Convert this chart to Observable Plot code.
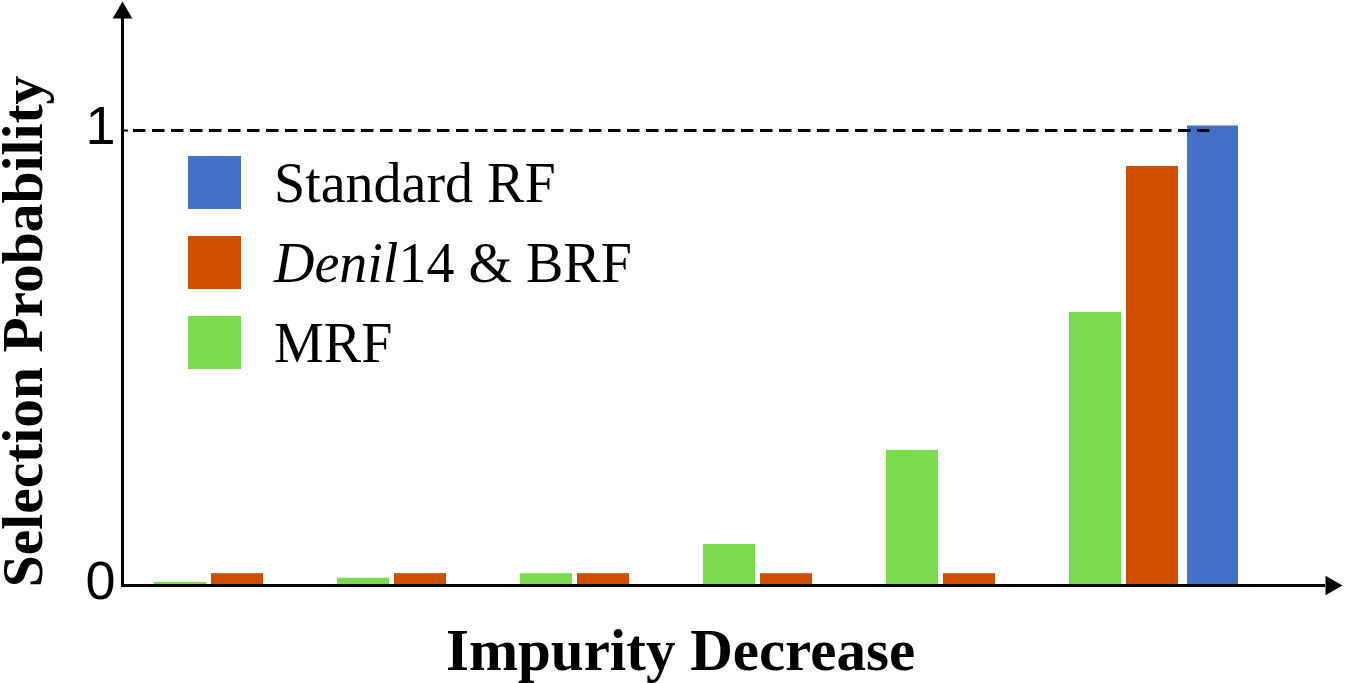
<!DOCTYPE html>
<html>
<head>
<meta charset="utf-8">
<script src="https://cdn.jsdelivr.net/npm/d3@7"></script>
<script src="https://cdn.jsdelivr.net/npm/@observablehq/plot@0.6"></script>
<style>
  html, body { margin: 0; padding: 0; background: white; overflow: hidden; }
  #wrap { position: relative; width: 1345px; height: 683px; }
  #legend { position: absolute; left: 188px; top: 156px; width: 620px; }
</style>
</head>
<body>
<div id="wrap"><div id="chart"></div><div id="legend"></div></div>
<script>
// ---- data ----
const groups = ["G1", "G2", "G3", "G4", "G5", "G6"];
const seriesNames = ["Standard RF", "Denil14 & BRF", "MRF"];
const standardRF = [0, 0, 0, 0, 0, 1.01];
const denilBRF = [0.026, 0.026, 0.026, 0.026, 0.026, 0.921];
const mrf = [0.007, 0.016, 0.026, 0.09, 0.297, 0.60];
const seriesColors = ["#4470C8", "#D04E00", "#7BDC4D"];
const yTicks = [0, 1];
const referenceLine = [1];
const xLabel = "Impurity Decrease";
const yLabel = "Selection Probability";

const rows = groups.flatMap((g, i) => [
  {group: g, series: seriesNames[2], value: mrf[i]},
  {group: g, series: seriesNames[1], value: denilBRF[i]},
  {group: g, series: seriesNames[0], value: standardRF[i]}
]);
const bySeries = s => rows.filter(d => d.series === s);

const chart = Plot.plot({
  width: 1345,
  height: 683,
  marginLeft: 122,
  marginRight: 20,
  marginTop: 18,
  marginBottom: 98,
  style: {fontFamily: "Liberation Sans", background: "white", color: "black"},
  x: {domain: groups, range: [152, 1240], paddingInner: 0.074, paddingOuter: 0, axis: null},
  y: {domain: [0, 1.2462], axis: null},
  color: {domain: seriesNames, range: seriesColors},
  marks: [
    Plot.barY(bySeries("MRF"), {x: "group", y: "value", fill: "series", insetLeft: 0, insetRight: 117}),
    Plot.barY(bySeries("Denil14 & BRF"), {x: "group", y: "value", fill: "series", insetLeft: 57, insetRight: 60}),
    Plot.barY(bySeries("Standard RF"), {x: "group", y: "value", fill: "series", insetLeft: 118, insetRight: 0}),
    Plot.ruleY(referenceLine, {stroke: "black", strokeWidth: 3, strokeDasharray: "12.5,6.5", insetLeft: 11, insetRight: 113}),
    Plot.ruleY(referenceLine, {stroke: "black", strokeWidth: 2, insetRight: 1197}),
    Plot.ruleY([0], {stroke: "black", strokeWidth: 3}),
    Plot.frame({anchor: "left", stroke: "black", strokeWidth: 3}),
    Plot.dot([0], {frameAnchor: "top-left", symbol: "triangle", r: 7.3, fill: "black", stroke: null, dy: -5.67}),
    Plot.dot([0], {frameAnchor: "bottom-right", symbol: "triangle", r: 7.3, fill: "black", stroke: null, rotate: 90, dx: 5.67}),
    Plot.text(yTicks, {y: d => d, text: d => String(d), frameAnchor: "left", textAnchor: "end", lineAnchor: "middle", dx: -7, dy: -4, fontSize: 54, fill: "black"}),
    Plot.text([xLabel], {text: d => d, frameAnchor: "bottom", textAnchor: "middle", lineAnchor: "middle", dx: -43.5, dy: 66, fontSize: 59, fontWeight: "bold", fontFamily: "Liberation Serif", fill: "black"}),
    Plot.text([yLabel], {text: d => d, frameAnchor: "left", textAnchor: "middle", lineAnchor: "middle", rotate: -90, dx: -98.5, dy: 29.5, fontSize: 57.5, fontWeight: "bold", fontFamily: "Liberation Serif", fill: "black"})
  ]
});
document.getElementById("chart").appendChild(chart);

// ---- legend ----
const legend = Plot.legend({
  color: {domain: seriesNames, range: seriesColors},
  swatchSize: 53,
  columns: 1
});
legend.style.fontFamily = "'Liberation Serif', 'Times New Roman', serif";
legend.style.fontSize = "56px";
legend.style.color = "black";
legend.style.margin = "0";
legend.style.columns = "1";
legend.querySelectorAll("svg").forEach(svg => {
  svg.style.marginRight = "33px";
  svg.style.flexShrink = "0";
  const item = svg.parentElement;
  item.style.display = "flex";
  item.style.alignItems = "center";
  item.style.height = "53px";
  item.style.margin = "0 0 27px 0";
  item.style.padding = "0";
  item.style.overflow = "visible";
  Array.from(item.children).forEach(ch => {
    if (ch !== svg) { ch.style.overflow = "visible"; ch.style.lineHeight = "normal"; ch.style.textOverflow = "clip"; }
  });
});
// italicise "Denil" in the label
const walker = document.createTreeWalker(legend, NodeFilter.SHOW_TEXT);
const targets = [];
while (walker.nextNode()) {
  if (walker.currentNode.nodeValue.includes("Denil")) targets.push(walker.currentNode);
}
targets.forEach(node => {
  const txt = node.nodeValue;
  const idx = txt.indexOf("Denil");
  const frag = document.createDocumentFragment();
  if (idx > 0) frag.appendChild(document.createTextNode(txt.slice(0, idx)));
  const it = document.createElement("i");
  it.textContent = "Denil";
  frag.appendChild(it);
  frag.appendChild(document.createTextNode(txt.slice(idx + 5)));
  node.parentNode.replaceChild(frag, node);
});
document.getElementById("legend").appendChild(legend);
</script>
</body>
</html>
